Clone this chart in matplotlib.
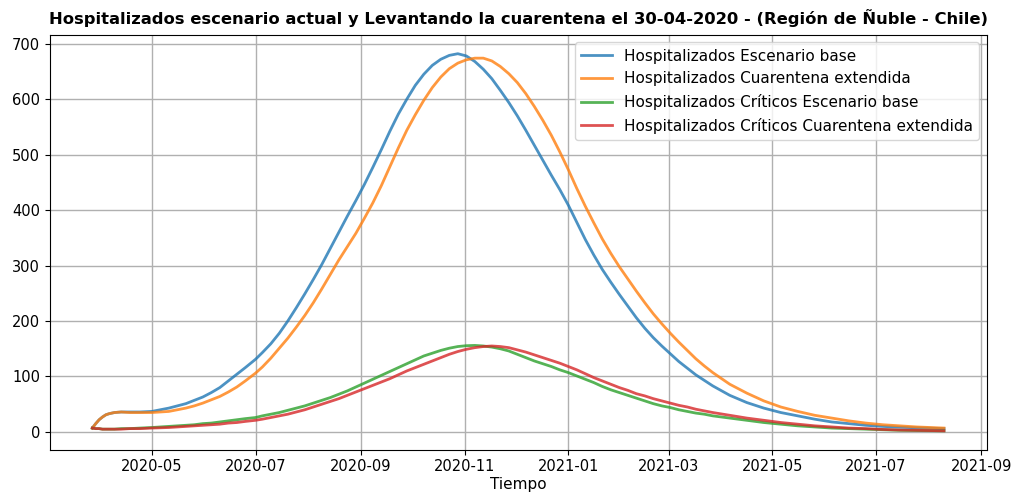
import matplotlib
matplotlib.use('Agg')
import matplotlib.pyplot as plt
import matplotlib.dates as mdates
import numpy as np
import pandas as pd

# dias desde 2020-05-01
dias = [-35, -33, -31, -29, -27, -25, -22, -18, -13, -7,
        0, 5, 10, 15, 20, 25, 30, 35, 40, 45,
        50, 55, 61, 65, 70, 75, 80, 85, 90, 95,
        100, 105, 110, 115, 120, 125, 130, 135, 140, 145,
        150, 155, 160, 165, 170, 175, 180, 185, 190, 195,
        200, 205, 210, 215, 220, 225, 230, 235, 240, 245,
        250, 255, 260, 265, 270, 275, 280, 285, 290, 295,
        300, 305, 310, 315, 320, 325, 330, 340, 350, 360,
        370, 380, 390, 400, 410, 420, 430, 440, 450, 466]

hosp_base = [7, 15, 22, 27, 31, 33, 35, 36, 36, 36,
             37, 40, 43, 47, 51, 57, 63, 71, 80, 92,
             104, 116, 131, 143, 159, 178, 200, 224, 249, 275,
             302, 331, 360, 389, 417, 446, 477, 509, 542, 573,
             600, 625, 645, 661, 672, 679, 682, 678, 668, 654,
             637, 616, 594, 570, 544, 517, 490, 463, 437, 409,
             378, 347, 319, 293, 270, 248, 227, 206, 187, 170,
             155, 141, 127, 115, 103, 93, 83, 66, 53, 43,
             35, 29, 23, 18, 15, 12, 10, 8.5, 7.5, 6]

hosp_cuar = [7, 15, 22, 27, 31, 33, 35, 36, 35, 35,
             35, 36, 37, 40, 43, 47, 52, 58, 64, 72,
             81, 92, 106, 117, 133, 151, 169, 189, 210, 233,
             258, 284, 310, 334, 358, 385, 413, 444, 478, 512,
             544, 572, 598, 621, 640, 655, 665, 671, 674, 674,
             669, 659, 646, 630, 610, 587, 562, 535, 505, 473,
             439, 407, 377, 348, 322, 298, 276, 254, 233, 213,
             195, 178, 162, 147, 132, 119, 107, 86, 70, 56,
             45, 37, 30, 25, 20, 16, 13, 11, 9, 7]

crit_base = [7, 6, 6, 5, 5, 5, 5, 6, 6, 7,
             8, 9, 10, 11, 12, 13, 15, 16, 18, 20,
             22, 24, 26, 29, 32, 35, 39, 43, 47, 52,
             57, 62, 68, 74, 81, 88, 95, 102, 109, 116,
             123, 130, 137, 142, 147, 151, 154, 155.5, 156, 155,
             153, 150, 146, 140, 134, 128, 123, 118, 112, 107,
             101, 95, 89, 82, 76, 71, 66, 61, 56, 51,
             47, 44, 40, 37, 34, 32, 29, 25, 21, 17,
             14, 11, 9, 7, 6, 5, 4, 3, 2.5, 2]

crit_cuar = [7, 6, 6, 5, 5, 5, 5, 5, 6, 6,
             7, 7.5, 8, 9, 10, 11, 12, 13, 14, 16,
             17, 19, 21, 23, 26, 29, 32, 36, 40, 45,
             50, 55, 60, 66, 72, 78, 84, 90, 96, 103,
             110, 116, 122, 128, 134, 140, 145, 149, 152, 154,
             155, 154, 152, 148, 144, 139, 134, 129, 124, 118,
             112, 105, 98, 92, 86, 80, 75, 69, 65, 60,
             56, 52, 48, 45, 41, 38, 35, 30, 25, 21,
             17, 14, 11, 9, 7, 6, 4.5, 3.5, 3, 2]

fechas = pd.Timestamp('2020-05-01') + pd.to_timedelta(dias, unit='D')

fig = plt.figure(figsize=(10.15, 4.98), dpi=100)
ax = fig.add_axes([0.049, 0.097, 0.923, 0.833])

ax.plot(fechas, hosp_base, lw=2, alpha=0.8, color='tab:blue', label='Hospitalizados Escenario base')
ax.plot(fechas, hosp_cuar, lw=2, alpha=0.8, color='tab:orange', label='Hospitalizados Cuarentena extendida')
ax.plot(fechas, crit_base, lw=2, alpha=0.8, color='tab:green', label='Hospitalizados Críticos Escenario base')
ax.plot(fechas, crit_cuar, lw=2, alpha=0.8, color='tab:red', label='Hospitalizados Críticos Cuarentena extendida')

ax.xaxis.set_major_locator(mdates.MonthLocator(bymonth=[1, 3, 5, 7, 9, 11]))
ax.xaxis.set_major_formatter(mdates.DateFormatter('%Y-%m'))
ax.set_yticks(np.arange(0, 701, 100))

ax.grid(True, color='#b0b0b0', lw=1)
ax.tick_params(labelsize=10.5)
ax.set_xlabel('Tiempo', fontsize=11, labelpad=2)
ax.set_title('Hospitalizados escenario actual y Levantando la cuarentena el 30-04-2020 - (Región de Ñuble - Chile)',
             fontsize=11.8, fontweight='bold', pad=8)
ax.legend(loc='upper right', fontsize=11)

fig.savefig('out.png', dpi=100)
